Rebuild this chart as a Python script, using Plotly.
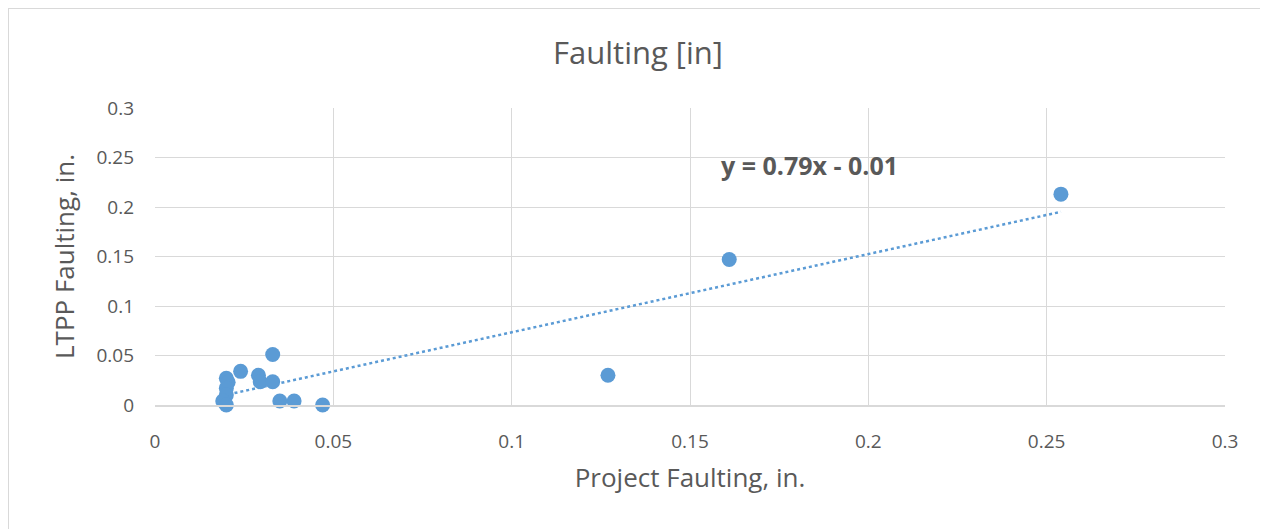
import numpy as np
import plotly.graph_objects as go

# Data
project_faulting = [0.020, 0.0205, 0.020, 0.020, 0.019, 0.020, 0.024, 0.029, 0.0295,
                    0.033, 0.033, 0.035, 0.039, 0.047, 0.127, 0.161, 0.254]
ltpp_faulting = [0.027, 0.023, 0.017, 0.010, 0.004, 0.000, 0.034, 0.030, 0.0235,
                 0.0235, 0.051, 0.004, 0.004, 0.000, 0.030, 0.147, 0.213]
tick_vals = [0, 0.05, 0.1, 0.15, 0.2, 0.25, 0.3]
tick_text = ["0", "0.05", "0.1", "0.15", "0.2", "0.25", "0.3"]
equation_label = "y = 0.79x - 0.01"

# Linear trendline
slope, intercept = np.polyfit(project_faulting, ltpp_faulting, 1)
tx = np.array([min(project_faulting), max(project_faulting)])
ty = slope * tx + intercept

blue = "#5B9BD5"
grey_text = "#595959"
font_family = "Open Sans, Liberation Sans, sans-serif"

fig = go.Figure()
fig.add_trace(go.Scatter(x=tx, y=ty, mode="lines",
                         line=dict(color=blue, width=2.5, dash="dot"),
                         showlegend=False, hoverinfo="skip"))
fig.add_trace(go.Scatter(x=project_faulting, y=ltpp_faulting, mode="markers",
                         marker=dict(color=blue, size=15, line=dict(width=0)),
                         cliponaxis=False,
                         showlegend=False, hoverinfo="x+y"))

# page body has an 8px offset, so the figure is 8px smaller than the window
W, H = 1260, 521
ml, mr, mt, mb = 147, 43, 100, 124
pw, ph = W - ml - mr, H - mt - mb

def px_to_paper_x(px):
    return (px - ml) / pw

def px_to_paper_y(py):
    return (H - mb - py) / ph

fig.update_layout(
    width=W, height=H,
    margin=dict(l=ml, r=mr, t=mt, b=mb),
    paper_bgcolor="white", plot_bgcolor="white",
    font=dict(family=font_family, color=grey_text, size=19),
    title=dict(text="Faulting [in]", x=630 / W,
               xanchor="center", y=1 - 45 / H, yanchor="middle",
               font=dict(size=31, color=grey_text, family=font_family)),
    xaxis=dict(range=[0, 0.3], tickvals=tick_vals, ticktext=tick_text,
               showgrid=True, gridcolor="#D9D9D9", gridwidth=1,
               zeroline=False, showline=True, linecolor="#D9D9D9", linewidth=1.5,
               ticks="", ticklabelstandoff=18,
               tickfont=dict(size=19, color=grey_text),
               title=dict(text="Project Faulting, in.", standoff=16,
                          font=dict(size=26, color=grey_text))),
    yaxis=dict(range=[0, 0.3], tickvals=tick_vals, ticktext=tick_text,
               showgrid=True, gridcolor="#D9D9D9", gridwidth=1,
               zeroline=False, showline=False,
               ticks="", ticklabelstandoff=20,
               tickfont=dict(size=19, color=grey_text),
               title=dict(text="LTPP Faulting, in.", standoff=14,
                          font=dict(size=26, color=grey_text))),
    annotations=[dict(text="<b>" + equation_label + "</b>", x=0.1835, y=0.242,
                      xref="x", yref="y", showarrow=False,
                      font=dict(size=25, color=grey_text, family=font_family))],
    shapes=[dict(type="rect", xref="paper", yref="paper",
                 x0=px_to_paper_x(0), x1=px_to_paper_x(1300),
                 y0=px_to_paper_y(560), y1=px_to_paper_y(0),
                 line=dict(color="#D9D9D9", width=2), fillcolor="rgba(0,0,0,0)",
                 layer="below")],
)

fig.write_html("out.html")
